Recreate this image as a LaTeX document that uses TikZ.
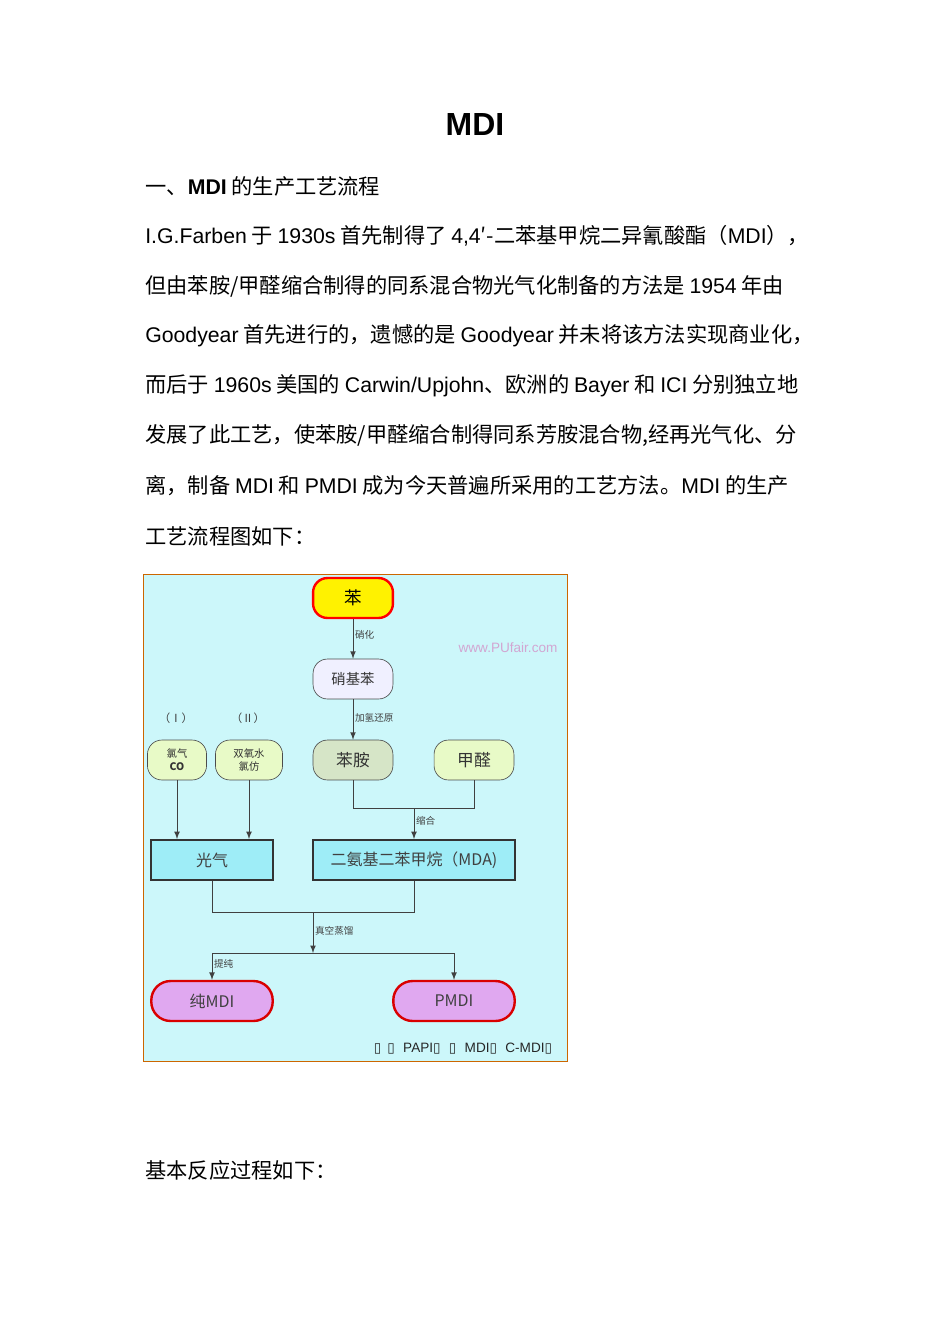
\documentclass[tikz,border=0pt]{standalone}
\usepackage{fontspec}
\setmainfont{Noto Sans CJK SC}
\newfontfamily\lat{Liberation Sans}
\newfontfamily\symf{DejaVu Sans}
\definecolor{bgc}{rgb}{0.80,0.97,0.98}
\definecolor{boxc}{rgb}{0.62,0.93,0.97}
\definecolor{grc}{rgb}{0.91,0.98,0.78}
\definecolor{gr2}{rgb}{0.84,0.90,0.78}
\definecolor{pkc}{rgb}{0.88,0.66,0.94}
\begin{document}
\begin{tikzpicture}[x=0.626pt,y=-0.626pt,
  bodyline/.style={anchor=west,inner sep=0pt,font=\fontsize{13.3pt}{15pt}\selectfont},
  lbl/.style={anchor=west,inner sep=1pt,font=\fontsize{6pt}{7pt}\selectfont,text=black!75},
  rbox/.style={draw=black!70,rounded corners=9pt,minimum width=50pt,minimum height=25pt,font=\fontsize{9pt}{10pt}\selectfont,text=black!80},
  sbox/.style={draw=black!80,line width=1.2pt,fill=boxc,minimum height=25pt,font=\fontsize{10pt}{11pt}\selectfont,text=black!75},
  pbox/.style={draw=red!85!black,line width=1.5pt,fill=pkc,rounded corners=12pt,minimum width=76pt,minimum height=25pt,font=\fontsize{10pt}{11pt}\selectfont,text=black!75},
  arr/.style={-latex,black!75,line width=0.6pt},
  ln/.style={black!75,line width=0.6pt}]
\useasboundingbox (0,0) rectangle (950,1344);
\fill[white] (0,0) rectangle (950,1344);
\node[font=\lat\bfseries\fontsize{20pt}{22pt}\selectfont] (title) at (475,125) {MDI};
\node[bodyline] (l0) at (145,186) {一、{\lat\bfseries MDI} 的生产工艺流程};
\node[bodyline] (l1) at (145,236) {{\lat I.G.Farben} 于 {\lat 1930s} 首先制得了 {\lat 4,4}′-二苯基甲烷二异氰酸酯（{\lat MDI}），};
\node[bodyline] (l2) at (145,286) {但由苯胺/甲醛缩合制得的同系混合物光气化制备的方法是 {\lat 1954} 年由};
\node[bodyline] (l3) at (145,336) {{\lat Goodyear} 首先进行的，遗憾的是 {\lat Goodyear} 并未将该方法实现商业化，};
\node[bodyline] (l4) at (145,386) {而后于 {\lat 1960s} 美国的 {\lat Carwin/Upjohn}、欧洲的 {\lat Bayer} 和 {\lat ICI} 分别独立地};
\node[bodyline] (l5) at (145,436) {发展了此工艺，使苯胺/甲醛缩合制得同系芳胺混合物,经再光气化、分};
\node[bodyline] (l6) at (145,486) {离，制备 {\lat MDI} 和 {\lat PMDI} 成为今天普遍所采用的工艺方法。{\lat MDI} 的生产};
\node[bodyline] (l7) at (145,536) {工艺流程图如下：};
\node[bodyline] (l8) at (145,1170) {基本反应过程如下：};
% diagram
\draw[draw=orange!80!black,fill=bgc] (143,574) rectangle (567,1061);
\node[rbox,draw=red,line width=1.5pt,fill=yellow,font=\fontsize{11pt}{12pt}\selectfont,text=black] (ben) at (353,598) {苯};
\node[rbox,fill=blue!6] (xjb) at (353,679) {硝基苯};
\node[font=\lat\fontsize{8.5pt}{9pt}\selectfont,text=violet!35] (www) at (508,648) {www.PUfair.com};
\node[font=\fontsize{7pt}{8pt}\selectfont,text=black!75] (i1) at (176,718) {（Ⅰ）};
\node[font=\fontsize{7pt}{8pt}\selectfont,text=black!75] (i2) at (248,718) {（Ⅱ）};
\node[rbox,fill=grc,minimum width=37pt,align=center,font=\fontsize{6.5pt}{8pt}\selectfont] (cl) at (177,760) {氯气\\\textbf{CO}};
\node[rbox,fill=grc,minimum width=42pt,align=center,font=\fontsize{6.5pt}{8pt}\selectfont] (sy) at (249,760) {双氧水\\氯仿};
\node[rbox,fill=gr2,font=\fontsize{10.5pt}{11pt}\selectfont] (ba) at (353,760) {苯胺};
\node[rbox,fill=grc,font=\fontsize{10.5pt}{11pt}\selectfont] (jq) at (474,760) {甲醛};
\node[sbox,minimum width=76pt] (gq) at (212,860) {光气};
\node[sbox,minimum width=126pt] (mda) at (414,860) {二氨基二苯甲烷（MDA)};
\node[pbox] (cm) at (212,1001) {纯MDI};
\node[pbox] (pm) at (454,1001) {PMDI};
\node[font=\lat\fontsize{8.5pt}{9pt}\selectfont,text=black!85] (foot) at (463,1049) {{\symf ▯}\, {\symf ▯}\,\, PAPI{\symf ▯}\,\, {\symf ▯}\,\, MDI{\symf ▯}\,\, C-MDI{\symf ▯}};
\draw[arr] (ben) -- node[lbl,pos=0.4] {硝化} (xjb);
\draw[arr] (xjb) -- node[lbl,pos=0.45] {加氢还原} (ba);
\coordinate (j1) at (414,808);
\draw[ln] (ba.south) |- (j1) -| (jq.south);
\draw[arr] (j1) -- node[lbl,pos=0.4] {缩合} (mda.north);
\draw[arr] (cl.south) -- (cl.south |- gq.north);
\draw[arr] (sy.south) -- (sy.south |- gq.north);
\coordinate (j2) at (313,912);
\coordinate (j3) at (313,953);
\draw[ln] (gq.south) |- (j2) -| (mda.south);
\draw[arr] (j2) -- node[lbl,pos=0.45] {真空蒸馏} (j3);
\draw[ln] (cm.north |- j3) -- (pm.north |- j3);
\draw[arr] (cm.north |- j3) -- node[lbl,pos=0.4] {提纯} (cm.north);
\draw[arr] (pm.north |- j3) -- (pm.north);
\end{tikzpicture}
\end{document}
